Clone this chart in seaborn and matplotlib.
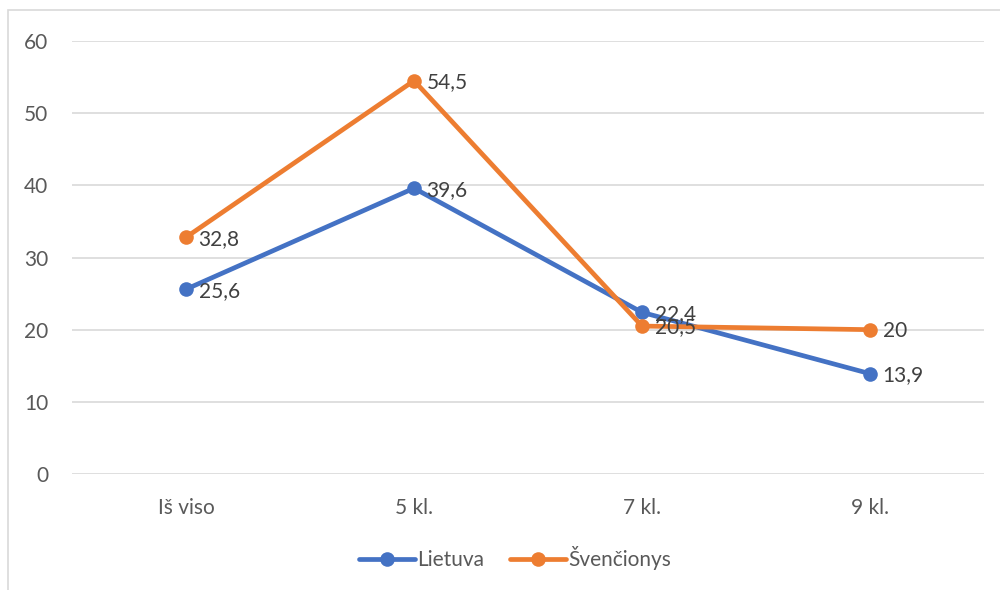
import matplotlib
matplotlib.use("Agg")
import matplotlib.pyplot as plt
import pandas as pd
import seaborn as sns

categories = ["Iš viso", "5 kl.", "7 kl.", "9 kl."]
lietuva = [25.6, 39.6, 22.4, 13.9]
svencionys = [32.8, 54.5, 20.5, 20]
series_names = ["Lietuva", "Švenčionys"]
y_ticks = [0, 10, 20, 30, 40, 50, 60]

sns.set_theme(style="white")
plt.rcParams["font.family"] = ["Lato", "DejaVu Sans"]

text_color = "#595959"
palette = {"Lietuva": "#4472C4", "Švenčionys": "#ED7D31"}

df = pd.DataFrame({
    "kat": categories * 2,
    "pos": list(range(len(categories))) * 2,
    "val": lietuva + svencionys,
    "serija": [series_names[0]] * 4 + [series_names[1]] * 4,
})

fig = plt.figure(figsize=(10, 5.9), dpi=100)
ax = fig.add_axes([0.072, 0.1966, 0.912, 0.7339])

sns.lineplot(data=df, x="pos", y="val", hue="serija", palette=palette,
             marker="o", markersize=10.5, markeredgewidth=0, linewidth=3.4,
             ax=ax, legend=False)

for name, vals in zip(series_names, [lietuva, svencionys]):
    for i, v in enumerate(vals):
        label = f"{v:g}".replace(".", ",")
        ax.annotate(label, (i, v), xytext=(9, -1), textcoords="offset points",
                    ha="left", va="center", fontsize=15, color="#404040")

ax.set_xlim(-0.5, 3.5)
ax.set_ylim(0, 60)
ax.set_yticks(y_ticks)
ax.set_xticks(range(len(categories)))
ax.set_xticklabels(categories)
ax.tick_params(axis="both", length=0, labelsize=15, labelcolor=text_color)
ax.tick_params(axis="y", pad=17)
ax.tick_params(axis="x", pad=17)
ax.set_xlabel("")
ax.set_ylabel("")
ax.grid(axis="y", color="#D9D9D9", linewidth=1.2)
ax.set_axisbelow(True)
for s in ax.spines.values():
    s.set_visible(False)

handles = [plt.Line2D([], [], color=palette[n], marker="o", markersize=10.5,
                      linewidth=3.4, markeredgewidth=0) for n in series_names]
fig.legend(handles, series_names, loc="center", bbox_to_anchor=(0.515, 0.054),
           ncol=2, frameon=False, fontsize=15, labelcolor=text_color,
           handlelength=2.7, handletextpad=0.1, columnspacing=1.2)

# light outer frame around the chart area
frame = plt.Rectangle((0.008, -0.02), 1.2, 1.003, transform=fig.transFigure,
                      fill=False, edgecolor="#D9D9D9", linewidth=1.2)
fig.patches.append(frame)

fig.savefig("out.png", dpi=100)
